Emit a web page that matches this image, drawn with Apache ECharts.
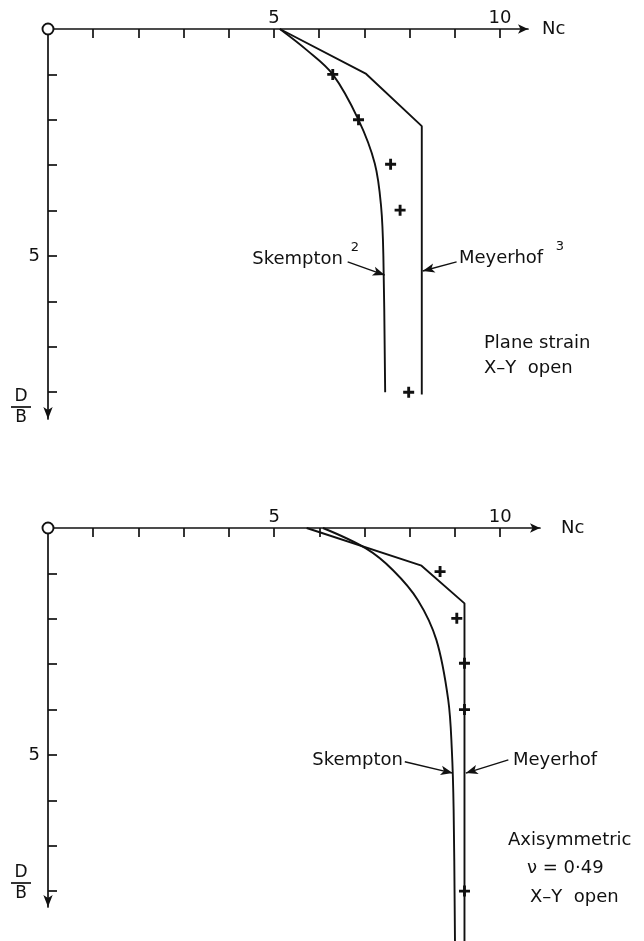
<!DOCTYPE html>
<html>
<head>
<meta charset="utf-8">
<script src="https://cdn.jsdelivr.net/npm/echarts@6/dist/echarts.min.js"></script>
<style>
    html, body { margin: 0; padding: 0; background: #fff; }
    #chart { width: 644px; height: 941px; }
</style>
</head>
<body>
<div id="chart"></div>
<script>
    // data: [Nc, D/B]
    var ticksX = [1, 2, 3, 4, 5, 6, 7, 8, 9, 10];
    var labelsX = [5, 10];
    var ticksY = [1, 2, 3, 4, 5, 6, 7, 8];
    var labelsY = [5];
    var origin = [[0, 0]];

    // plane strain
    var skemptonPlane = [[5.13, 0], [5.72, 0.46], [6.3, 1], [6.87, 2], [7.23, 2.96], [7.37, 3.91], [7.42, 5], [7.46, 8]];
    var meyerhofPlane = [[5.13, 0], [7.04, 0.99], [8.27, 2.14], [8.27, 8.05]];
    var feaPlane = [[6.3, 1], [6.87, 2], [7.58, 2.98], [7.79, 3.99], [7.98, 8]];

    // axisymmetric
    var skemptonAxi = [[6.08, 0], [7.03, 0.45], [7.63, 0.93], [8.18, 1.59], [8.59, 2.47], [8.85, 3.78], [8.93, 4.88], [8.97, 6.2], [9.0, 9.1]];
    var meyerhofAxi = [[5.72, 0], [8.26, 0.83], [9.21, 1.66], [9.21, 9.1]];
    var feaAxi = [[8.67, 0.96], [9.04, 1.99], [9.21, 2.98], [9.21, 4.0], [9.21, 8.0]];

    var ink = '#111';
    var font = 'DejaVu Sans';
    var plus = 'path://M3.7,0h2.6v3.7h3.7v2.6h-3.7v3.7h-2.6v-3.7h-3.7v-2.6h3.7z';

    function xAxisOf(idx, max, gap) {
        return {
            type: 'value', gridIndex: idx, position: 'top', min: 0, max: max,
            splitLine: { show: false },
            axisLine: { onZero: false, symbol: ['none', 'arrow'], symbolSize: [7, 10], lineStyle: { color: ink, width: 1.7 } },
            axisTick: { inside: true, length: 9, customValues: ticksX, lineStyle: { color: ink, width: 1.7 } },
            axisLabel: { customValues: labelsX, margin: 2, color: ink, fontSize: 18, fontFamily: font },
            name: 'Nc', nameLocation: 'end', nameGap: gap,
            nameTextStyle: { color: ink, fontSize: 18, fontFamily: font, verticalAlign: 'middle', padding: [8, 0, 0, 0] }
        };
    }
    function yAxisOf(idx, max) {
        // inverse axis: the arrow has to go on the first end
        return {
            type: 'value', gridIndex: idx, inverse: true, min: 0, max: max,
            splitLine: { show: false },
            axisLine: { onZero: false, symbol: ['arrow', 'none'], symbolSize: [7, 12], lineStyle: { color: ink, width: 1.7 } },
            axisTick: { inside: true, length: 9, customValues: ticksY, lineStyle: { color: ink, width: 1.7 } },
            axisLabel: { customValues: labelsY, margin: 8, color: ink, fontSize: 18, fontFamily: font }
        };
    }
    function curve(idx, name, data, smooth, arrow) {
        return {
            name: name, type: 'line', xAxisIndex: idx, yAxisIndex: idx, data: data,
            smooth: smooth, showSymbol: false, clip: false, z: 3,
            lineStyle: { color: ink, width: 1.9 },
            markLine: {
                silent: true, symbol: ['none', 'arrow'], symbolSize: [7, 12],
                lineStyle: { color: ink, width: 1.4, type: 'solid' }, label: { show: false },
                data: [[{ coord: arrow[0] }, { coord: arrow[1] }]]
            }
        };
    }
    function points(idx, data) {
        return {
            type: 'scatter', xAxisIndex: idx, yAxisIndex: idx, data: data, clip: false, z: 4,
            symbol: plus, symbolSize: 11, itemStyle: { color: ink, opacity: 1 }
        };
    }
    function ring(idx) {
        return {
            type: 'scatter', xAxisIndex: idx, yAxisIndex: idx, data: origin, clip: false, z: 5,
            symbol: 'circle', symbolSize: 11, itemStyle: { color: '#fff', borderColor: ink, borderWidth: 1.9, opacity: 1 }
        };
    }
    function txt(x, y, s, size, align) {
        return { type: 'text', x: x, y: y, style: { text: s, fill: ink, font: size + 'px "DejaVu Sans"', align: align || 'left', verticalAlign: 'middle' } };
    }
    function frac(y) {
        return [
            txt(21, y - 10, 'D', 17, 'center'),
            { type: 'line', shape: { x1: 11, y1: y, x2: 31, y2: y }, style: { stroke: ink, lineWidth: 1.7 } },
            txt(21, y + 11, 'B', 17, 'center')
        ];
    }

    var chart = echarts.init(document.getElementById('chart'));
    chart.setOption({
        backgroundColor: '#fff',
        animation: false,
        grid: [
            { left: 48, top: 29, width: 480, height: 390 },
            { left: 48, top: 528, width: 492, height: 379 }
        ],
        xAxis: [xAxisOf(0, 10.62, 14), xAxisOf(1, 10.88, 21)],
        yAxis: [yAxisOf(0, 8.59), yAxisOf(1, 8.35)],
        series: [
            curve(0, 'Skempton', skemptonPlane, 0.35, [[6.63, 5.13], [7.45, 5.42]]),
            curve(0, 'Meyerhof', meyerhofPlane, false, [[9.04, 5.13], [8.29, 5.33]]),
            points(0, feaPlane),
            ring(0),
            curve(1, 'Skempton', skemptonAxi, 0.35, [[7.89, 5.15], [8.95, 5.40]]),
            curve(1, 'Meyerhof', meyerhofAxi, false, [[10.18, 5.11], [9.24, 5.40]]),
            points(1, feaAxi),
            ring(1)
        ],
        graphic: [
            txt(343, 259, 'Skempton', 18, 'right'),
            txt(355, 248, '2', 13, 'center'),
            txt(459, 258, 'Meyerhof', 18),
            txt(560, 247, '3', 13, 'center'),
            txt(484, 343, 'Plane strain', 18),
            txt(484, 368, 'X\u2013Y  open', 18),
            txt(403, 760, 'Skempton', 18, 'right'),
            txt(513, 760, 'Meyerhof', 18),
            txt(508, 840, 'Axisymmetric', 18),
            txt(527, 868, '\u03bd = 0\u00b749', 18),
            txt(530, 897, 'X\u2013Y  open', 18)
        ].concat(frac(407), frac(883))
    });
</script>
</body>
</html>
